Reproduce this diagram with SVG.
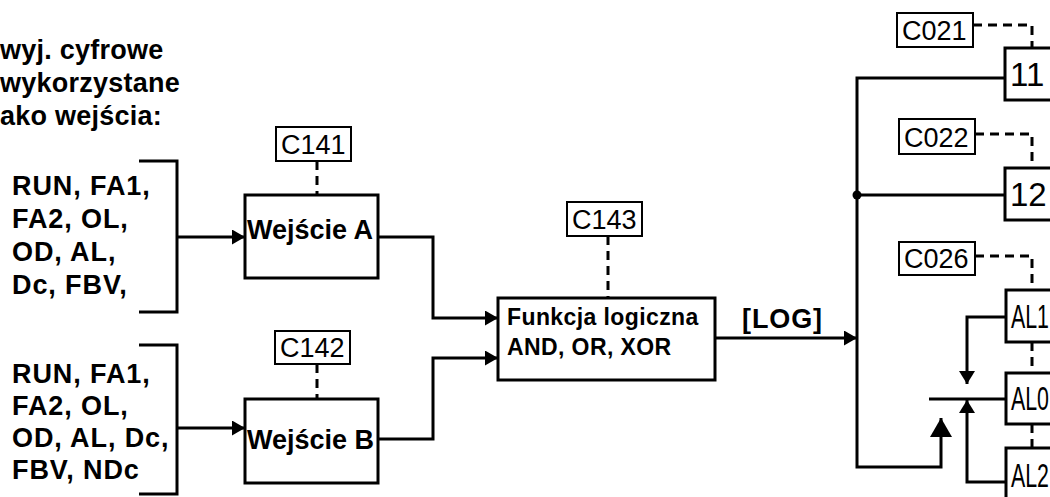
<svg xmlns="http://www.w3.org/2000/svg" width="1050" height="497" viewBox="0 0 1050 497">
<style>
  .t { font-family: "Liberation Sans", Arial, sans-serif; fill: #000; }
  .b { font-weight: bold; font-size: 27px; }
  .ls { letter-spacing: 0.9px; }
  .hd { letter-spacing: 0.25px; }
  .m { font-weight: bold; font-size: 23px; letter-spacing: 0.4px; }
  .lab { font-size: 27px; }
  .big { font-size: 33px; }
  .box { fill: #fff; stroke: #000; stroke-width: 3; }
  .lbox { fill: #fff; stroke: #000; stroke-width: 2; }
  .ln { fill: none; stroke: #000; stroke-width: 3; }
  .dash { fill: none; stroke: #000; stroke-width: 3; stroke-dasharray: 9 6; }
</style>
<defs>
  <marker id="arr" markerUnits="userSpaceOnUse" markerWidth="14" markerHeight="15" refX="13" refY="7.5" orient="auto">
    <path d="M0,0 L13,7.5 L0,15 Z" fill="#000"/>
  </marker>
  <marker id="arrSm" markerUnits="userSpaceOnUse" markerWidth="14" markerHeight="16" refX="13" refY="8" orient="auto">
    <path d="M0,0 L13,8 L0,16 Z" fill="#000"/>
  </marker>
  <marker id="arrBig" markerUnits="userSpaceOnUse" markerWidth="20" markerHeight="22" refX="19" refY="11" orient="auto">
    <path d="M0,0 L19,11 L0,22 Z" fill="#000"/>
  </marker>
</defs>
<rect width="1050" height="497" fill="#fff"/>

<g id="heading">
  <text class="t b hd" x="0" y="59">wyj. cyfrowe</text>
  <text class="t b hd" x="0" y="92">wykorzystane</text>
  <text class="t b hd" x="0" y="125">ako wejścia:</text>
</g>

<g id="inputs-a">
  <path class="ln" d="M139,161 H177 V312 H139"/>
  <text class="t b ls" x="12" y="195">RUN, FA1,</text>
  <text class="t b ls" x="12" y="228">FA2, OL,</text>
  <text class="t b ls" x="12" y="261">OD, AL,</text>
  <text class="t b ls" x="12" y="294">Dc, FBV,</text>
</g>

<g id="inputs-b">
  <path class="ln" d="M139,345 H177 V494 H139"/>
  <text class="t b ls" x="12" y="383">RUN, FA1,</text>
  <text class="t b ls" x="12" y="415">FA2, OL,</text>
  <text class="t b ls" x="12" y="447">OD, AL, Dc,</text>
  <text class="t b ls" x="12" y="479">FBV, NDc</text>
</g>

<g id="connectors">
  <line class="ln" x1="177" y1="237" x2="245" y2="237" marker-end="url(#arr)"/>
  <line class="ln" x1="177" y1="428" x2="245" y2="428" marker-end="url(#arr)"/>
  <path class="ln" d="M378,237 H433 V318 H498" marker-end="url(#arr)"/>
  <path class="ln" d="M378,439 H433 V358 H498" marker-end="url(#arr)"/>
  <line class="ln" x1="715" y1="338" x2="857" y2="338" marker-end="url(#arr)"/>
  <path class="ln" d="M1005,78 H857 V467 H941 V418" marker-end="url(#arrBig)"/>
  <line class="ln" x1="857" y1="195" x2="1005" y2="195"/>
  <circle cx="857" cy="195" r="4.5" fill="#000"/>
  <line class="ln" x1="929" y1="399" x2="1006" y2="399"/>
  <path class="ln" d="M1006,317 H967 V384" marker-end="url(#arrSm)"/>
  <path class="ln" d="M1006,482 H967 V400" marker-end="url(#arrSm)"/>
  <line class="dash" x1="317" y1="161" x2="317" y2="195"/>
  <line class="dash" x1="317" y1="364" x2="317" y2="399"/>
  <line class="dash" x1="608" y1="236" x2="608" y2="298"/>
  <path class="dash" d="M973,25 H1032 V48"/>
  <path class="dash" d="M975,134 H1032 V168"/>
  <path class="dash" d="M975,256 H1032 V290"/>
  <line class="dash" x1="1032" y1="342" x2="1032" y2="373"/>
  <line class="dash" x1="1032" y1="424" x2="1032" y2="448"/>
</g>

<g id="c141">
  <rect class="lbox" x="276" y="127" width="75" height="34"/>
  <text class="t lab" x="281" y="154">C141</text>
</g>
<g id="wejscie-a">
  <rect class="box" x="245" y="195" width="133" height="83"/>
  <text class="t b" x="247" y="239">Wejście A</text>
</g>
<g id="c142">
  <rect class="lbox" x="275" y="331" width="75" height="33"/>
  <text class="t lab" x="280" y="357">C142</text>
</g>
<g id="wejscie-b">
  <rect class="box" x="245" y="399" width="133" height="84"/>
  <text class="t b" x="247" y="449">Wejście B</text>
</g>
<g id="c143">
  <rect class="lbox" x="567" y="202" width="75" height="34"/>
  <text class="t lab" x="572" y="229">C143</text>
</g>
<g id="funkcja">
  <rect class="box" x="498" y="298" width="217" height="82"/>
  <text class="t m" x="507" y="325">Funkcja logiczna</text>
  <text class="t m" x="507" y="355">AND, OR, XOR</text>
</g>
<g id="log-label">
  <text class="t b ls" x="742" y="328">[LOG]</text>
</g>

<g id="c021">
  <rect class="lbox" x="897" y="13" width="76" height="34"/>
  <text class="t lab" x="902" y="40">C021</text>
</g>
<g id="out11">
  <rect class="box" x="1005" y="48" width="60" height="52"/>
  <text class="t big" x="1010" y="86">11</text>
</g>
<g id="c022">
  <rect class="lbox" x="899" y="119" width="76" height="35"/>
  <text class="t lab" x="904" y="147">C022</text>
</g>
<g id="out12">
  <rect class="box" x="1005" y="168" width="60" height="52"/>
  <text class="t big" x="1010" y="206">12</text>
</g>
<g id="c026">
  <rect class="lbox" x="899" y="242" width="76" height="33"/>
  <text class="t lab" x="904" y="268">C026</text>
</g>
<g id="al1">
  <rect class="box" x="1006" y="290" width="60" height="52"/>
  <text class="t big" x="1011" y="328" textLength="38" lengthAdjust="spacingAndGlyphs">AL1</text>
</g>
<g id="al0">
  <rect class="box" x="1006" y="373" width="60" height="51"/>
  <text class="t big" x="1011" y="410" textLength="38" lengthAdjust="spacingAndGlyphs">AL0</text>
</g>
<g id="al2">
  <rect class="box" x="1006" y="448" width="60" height="60"/>
  <text class="t big" x="1011" y="487" textLength="38" lengthAdjust="spacingAndGlyphs">AL2</text>
</g>
</svg>
